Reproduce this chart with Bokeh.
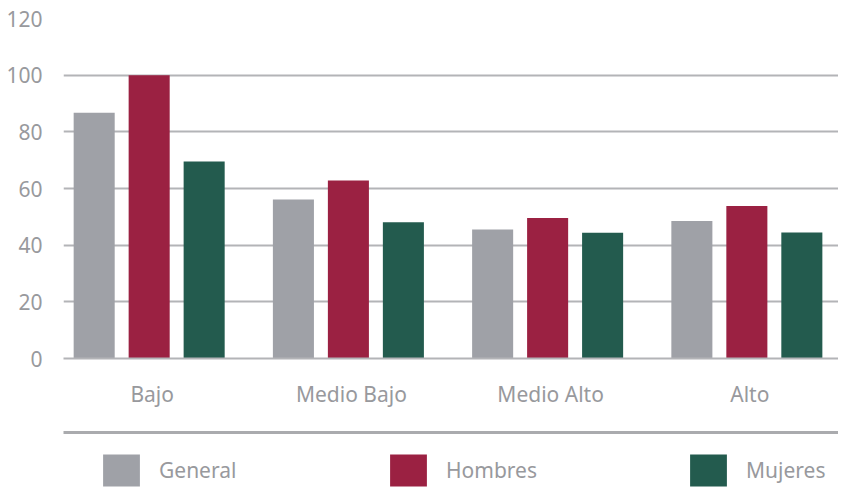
from bokeh.plotting import figure
from bokeh.layouts import column
from bokeh.models import (FactorRange, Range1d, FixedTicker, LinearAxis,
                          Legend, LegendItem, ColumnDataSource)
from bokeh.transform import dodge
from bokeh.embed import file_html
from bokeh.resources import INLINE

# ---- data ----
categories = ["Bajo", "Medio Bajo", "Medio Alto", "Alto"]
general = [86.7, 56.1, 45.5, 48.5]
hombres = [100.0, 62.8, 49.6, 53.8]
mujeres = [69.5, 48.1, 44.4, 44.5]
y_ticks = [0, 20, 40, 60, 80, 100, 120]
series_names = ["General", "Hombres", "Mujeres"]
series_colors = ["#9fa1a7", "#9b2142", "#235b4e"]

TEXT = "#98999d"
GRID = "#b3b4b7"
FONT = "Noto Sans"
FS = "21px"

source = ColumnDataSource(dict(cat=categories, General=general,
                               Hombres=hombres, Mujeres=mujeres))

xr = FactorRange(*categories, range_padding=-0.0275)

p = figure(width=838, height=424, x_range=xr, y_range=Range1d(0, 120),
           output_backend="svg", toolbar_location=None,
           min_border_left=63, min_border_right=0,
           min_border_top=18, min_border_bottom=66)
p.outline_line_color = None

offsets = [-0.291, -0.015, 0.261]
bar_width = 0.206
for name, off, col in zip(series_names, offsets, series_colors):
    p.vbar(x=dodge("cat", off, range=xr), top=name, width=bar_width,
           source=source, fill_color=col, line_color=None)

# grid
p.xgrid.visible = False
p.ygrid.ticker = FixedTicker(ticks=y_ticks)
p.ygrid.grid_line_color = GRID
p.ygrid.grid_line_width = 2

# y axis
ya = p.yaxis[0]
ya.ticker = FixedTicker(ticks=y_ticks)
ya.axis_line_color = None
ya.major_tick_line_color = None
ya.minor_tick_line_color = None
ya.major_label_standoff = 15
ya.major_label_text_font = FONT
ya.major_label_text_font_size = FS
ya.major_label_text_color = TEXT

# x axis
xa = p.xaxis[0]
xa.axis_line_color = GRID
xa.axis_line_width = 2
xa.major_tick_line_color = None
xa.major_label_standoff = 15
xa.major_label_text_font = FONT
xa.major_label_text_font_size = FS
xa.major_label_text_color = TEXT

# ---- legend strip with separator line ----
q = figure(width=838, height=63, x_range=xr, y_range=Range1d(0, 1),
           output_backend="svg", toolbar_location=None,
           x_axis_location=None, y_axis_location=None,
           min_border_left=63, min_border_right=0,
           min_border_top=8, min_border_bottom=0)
q.outline_line_color = None
q.grid.visible = False

sep = LinearAxis(ticker=FixedTicker(ticks=[]))
sep.axis_line_color = "#aaabae"
sep.axis_line_width = 3
sep.major_tick_line_color = None
sep.minor_tick_line_color = None
sep.major_label_standoff = 0
sep.major_label_text_font_size = "0px"
q.add_layout(sep, "above")

legend_x = [35, 322, 622]
for name, off, col, lx in zip(series_names, offsets, series_colors, legend_x):
    r = q.vbar(x=dodge("cat", off, range=xr), top=name, width=bar_width,
               source=source, fill_color=col, line_color=None, visible=False)
    lg = Legend(items=[LegendItem(label=name, renderers=[r])],
                location=(lx, -3), orientation="horizontal",
                glyph_width=46, glyph_height=40, label_standoff=15,
                margin=0, padding=0,
                border_line_color=None, background_fill_alpha=0,
                label_text_font=FONT, label_text_font_size=FS,
                label_text_color=TEXT)
    q.add_layout(lg)

layout = column(p, q, spacing=0)
open("out.html", "w").write(file_html(layout, INLINE))
